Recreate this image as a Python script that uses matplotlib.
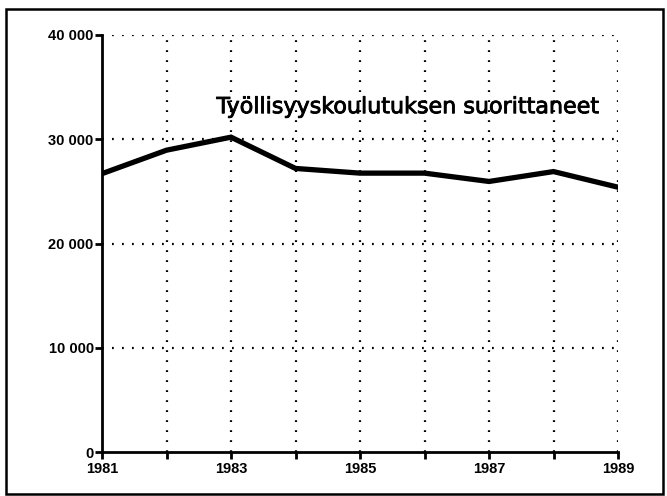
import matplotlib
matplotlib.use("Agg")
import matplotlib.pyplot as plt
import matplotlib.patheffects as pe
from matplotlib.patches import Rectangle

years = [1981, 1982, 1983, 1984, 1985, 1986, 1987, 1988, 1989]
values = [26700, 28950, 30200, 27200, 26750, 26750, 25950, 26900, 25400]
ytick_vals = [0, 10000, 20000, 30000, 40000]
ytick_labels = ["0", "10 000", "20 000", "30 000", "40 000"]
xtick_labels = ["1981", "", "1983", "", "1985", "", "1987", "", "1989"]
title = "Työllisyyskoulutuksen suorittaneet"

plt.rcParams['font.family'] = ['Liberation Sans', 'DejaVu Sans']

fig = plt.figure(figsize=(6.67, 4.96), dpi=100)
ax = fig.add_axes([102/667, 1-452/496, (618-102)/667, (452-35)/496])

ax.plot(years, values, color='black', linewidth=3.8, solid_joinstyle='miter', zorder=3)

ax.set_xlim(1981, 1989)
ax.set_ylim(0, 40000)
ax.set_xticks(years)
ax.set_xticklabels(xtick_labels, fontsize=10.5, fontweight='bold')
ax.set_yticks(ytick_vals)
ax.set_yticklabels(ytick_labels, fontsize=10.5, fontweight='bold')
ax.tick_params(axis='both', direction='out', length=5, width=2, color='black')
ax.tick_params(axis='x', pad=2)
ax.tick_params(axis='y', pad=1)

dots = (0, (0.8, 3.7))
for y in ytick_vals[1:]:
    ax.axhline(y, color='black', linewidth=1.6, linestyle=dots, zorder=1)
for x in years[1:]:
    ax.axvline(x, color='black', linewidth=1.6, linestyle=dots, zorder=1)

ax.spines['top'].set_visible(False)
ax.spines['right'].set_visible(False)
ax.spines['left'].set_linewidth(2)
ax.spines['bottom'].set_linewidth(2)

ax.text(1985.75, 32500, title, fontsize=16, ha='center', va='baseline',
        family=['DejaVu Sans'], zorder=4,
        path_effects=[pe.withStroke(linewidth=0.6, foreground='black')])

fig.patches.append(Rectangle((6/667, 2/496), 657/667, 485/496, transform=fig.transFigure,
                             fill=False, edgecolor='black', linewidth=1.8))

fig.savefig("out.png", dpi=100)
